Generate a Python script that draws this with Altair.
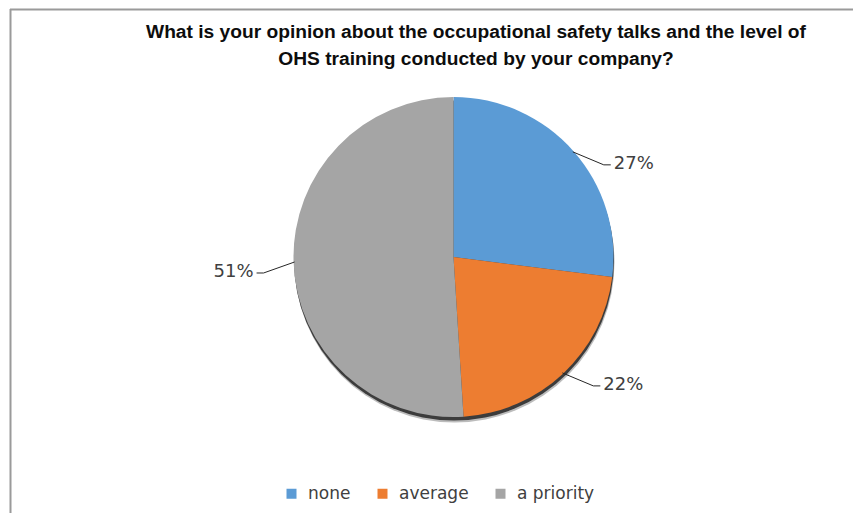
import math
import altair as alt
import pandas as pd

# ---- data ----
categories = ["none", "average", "a priority"]
values = [27, 22, 51]
colors = ["#5B9BD5", "#ED7D31", "#A5A5A5"]
title_lines = [
    "What is your opinion  about the occupational  safety talks and the  level of",
    "OHS training  conducted  by your company?",
]

# ---- layout (style, not data) ----
W, H = 845, 505
CX, CY, R = 445.5, 249.0, 160.0
FONT = "DejaVu Sans"
TITLE_FONT = "Liberation Sans"

total = sum(values)
pie = pd.DataFrame({"category": categories, "value": values, "order": range(len(values))})

# leader lines + labels derived from the data values
rows, labels = [], []
cum = 0
for cat, v in zip(categories, values):
    mid = (cum + v / 2) / total * 2 * math.pi
    cum += v
    px = CX + (R - 1) * math.sin(mid)
    py = CY - (R - 1) * math.cos(mid)
    s = 1 if math.sin(mid) >= 0 else -1
    ex, ey = px + s * 31, py + (13 if s > 0 else 11)
    fx, fy = ex + s * 7, ey
    for i, (xx, yy) in enumerate([(px, py), (ex, ey), (fx, fy)]):
        rows.append({"category": cat, "i": i, "x": xx, "y": yy})
    labels.append({"category": cat, "x": fx + s * 3, "y": fy - 1,
                   "text": f"{round(v / total * 100)}%",
                   "align": "left" if s > 0 else "right"})
lines_df = pd.DataFrame(rows)
labels_df = pd.DataFrame(labels)

xs = alt.Scale(domain=[0, W], nice=False, zero=False)
ys = alt.Scale(domain=[0, H], nice=False, zero=False, reverse=True)

shadow_outer = alt.Chart(pd.DataFrame({"v": [total]})).mark_arc(
    radius=R, color="#7a7a7a", opacity=0.5
).encode(theta=alt.Theta("v:Q"), x=alt.value(CX + 1), y=alt.value(CY + 5.5))
shadow = alt.Chart(pd.DataFrame({"v": [total]})).mark_arc(
    radius=R, color="#2e2e2e", opacity=0.9
).encode(theta=alt.Theta("v:Q"), x=alt.value(CX + 0.5), y=alt.value(CY + 3.5))

arcs = alt.Chart(pie).mark_arc(radius=R, stroke=None).encode(
    theta=alt.Theta("value:Q", stack=True),
    order=alt.Order("order:Q"),
    color=alt.Color(
        "category:N",
        sort=categories,
        scale=alt.Scale(domain=categories, range=colors),
        legend=alt.Legend(
            title=None, orient="none", direction="horizontal",
            legendX=275, legendY=477, symbolType="square", symbolSize=100,
            symbolStrokeWidth=0, labelFont=FONT, labelFontSize=17,
            labelColor="#404040", labelOffset=8, columnPadding=23,
        ),
    ),
    x=alt.value(CX),
    y=alt.value(CY),
)

leaders = alt.Chart(lines_df).mark_line(color="#262626", strokeWidth=1).encode(
    x=alt.X("x:Q", scale=xs, axis=None),
    y=alt.Y("y:Q", scale=ys, axis=None),
    detail="category:N",
    order="i:Q",
)

lab_right = alt.Chart(labels_df[labels_df["align"] == "left"]).mark_text(
    align="left", baseline="middle", font=FONT, fontSize=18, color="#404040"
).encode(x=alt.X("x:Q", scale=xs, axis=None), y=alt.Y("y:Q", scale=ys, axis=None), text="text:N")
lab_left = alt.Chart(labels_df[labels_df["align"] == "right"]).mark_text(
    align="right", baseline="middle", font=FONT, fontSize=18, color="#404040"
).encode(x=alt.X("x:Q", scale=xs, axis=None), y=alt.Y("y:Q", scale=ys, axis=None), text="text:N")

title_df = pd.DataFrame({"text": title_lines, "line": [0, 1]})
title = alt.Chart(title_df).mark_text(
    align="center", baseline="middle", font=TITLE_FONT, fontSize=19.2,
    fontWeight="bold", color="#0d0d0d"
).encode(
    x=alt.value(468),
    y=alt.Y("line:Q", scale=alt.Scale(domain=[0, 1], range=[23.5, 50.5]), axis=None),
    text="text:N",
)

border_top = alt.Chart(pd.DataFrame({"a": [0]})).mark_rule(color="#9a9a9a", strokeWidth=2).encode(
    x=alt.value(2), x2=alt.value(W), y=alt.value(1.5)
)
border_left = alt.Chart(pd.DataFrame({"a": [0]})).mark_rule(color="#9a9a9a", strokeWidth=2).encode(
    x=alt.value(2.5), y=alt.value(1), y2=alt.value(H)
)

chart = alt.layer(
    border_top, border_left, shadow_outer, shadow, arcs, leaders, lab_right, lab_left, title
).resolve_scale(y="independent").properties(
    width=W, height=H, autosize=alt.AutoSizeParams(type="none"), padding=0
).configure_view(stroke=None)

chart.save("out.html", embed_options={"renderer": "svg", "actions": False})
